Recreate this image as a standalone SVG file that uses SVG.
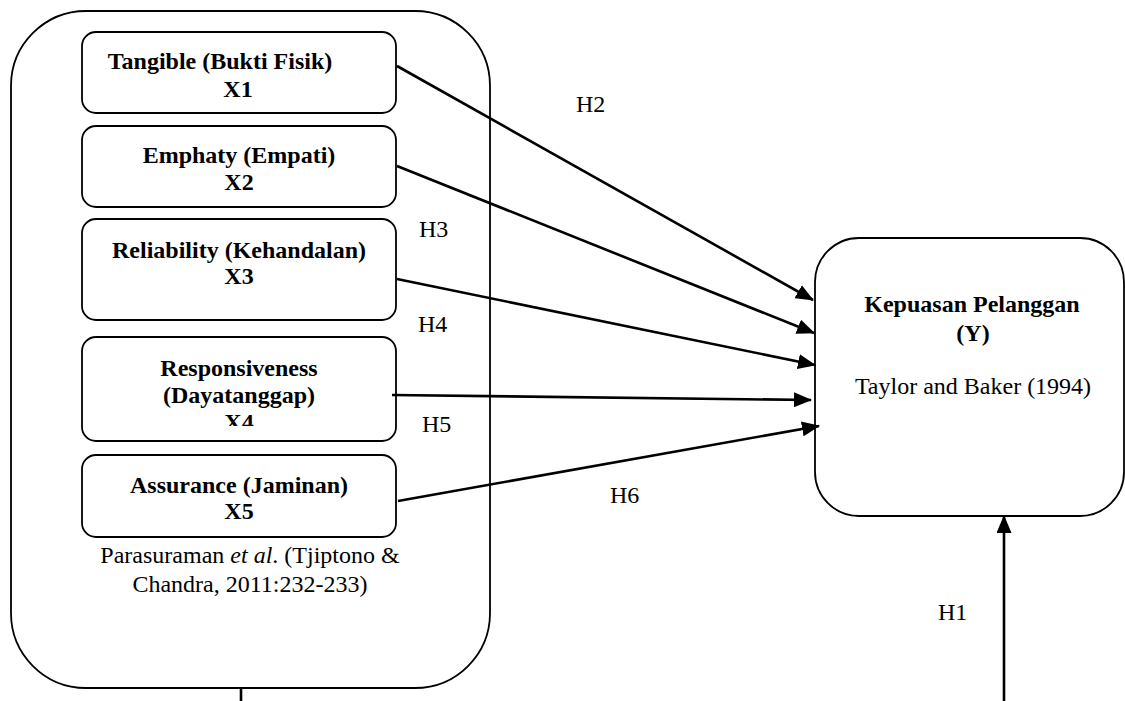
<svg xmlns="http://www.w3.org/2000/svg" width="1125" height="701" viewBox="0 0 1125 701">
<style>
.box{fill:#fff;stroke:#000;stroke-width:1.8}
.b{font-family:"Liberation Serif","Times New Roman",serif;font-size:24px;font-weight:bold;text-anchor:middle;fill:#000}
.t{font-family:"Liberation Serif","Times New Roman",serif;font-size:24px;text-anchor:middle;fill:#000}
.h{font-family:"Liberation Serif","Times New Roman",serif;font-size:24px;fill:#000}
.c{stroke:#000;stroke-width:2.6;fill:none}
</style>
<defs>
<marker id="ah" markerUnits="userSpaceOnUse" markerWidth="19" markerHeight="15" refX="17" refY="7.5" orient="auto">
<path d="M0,0 L18,7.5 L0,15 Z" fill="#000"/>
</marker>
<clipPath id="clip4"><rect x="82" y="337" width="314" height="89"/></clipPath>
</defs>
<rect width="1125" height="701" fill="#fff"/>
<g id="outer">
<rect class="box" x="11" y="11" width="479" height="677" rx="75" ry="75"/>
<text class="t" x="250" y="563">Parasuraman <tspan font-style="italic">et al</tspan>. (Tjiptono &amp;</text>
<text class="t" x="250" y="592">Chandra, 2011:232-233)</text>
</g>
<g id="x1">
<rect class="box" x="82" y="32" width="314" height="81" rx="14"/>
<text class="b" x="220" y="69">Tangible (Bukti Fisik)</text>
<text class="b" x="238" y="97">X1</text>
</g>
<g id="x2">
<rect class="box" x="82" y="126" width="314" height="81" rx="14"/>
<text class="b" x="239" y="163">Emphaty (Empati)</text>
<text class="b" x="239" y="190">X2</text>
</g>
<g id="x3">
<rect class="box" x="82" y="219" width="314" height="101" rx="14"/>
<text class="b" x="239" y="258">Reliability (Kehandalan)</text>
<text class="b" x="239" y="284">X3</text>
</g>
<g id="x4">
<rect class="box" x="82" y="337" width="314" height="104" rx="14"/>
<g clip-path="url(#clip4)">
<text class="b" x="239" y="376">Responsiveness</text>
<text class="b" x="239" y="403">(Dayatanggap)</text>
<text class="b" x="239" y="430">X4</text>
</g>
</g>
<g id="x5">
<rect class="box" x="82" y="455" width="314" height="82" rx="14"/>
<text class="b" x="239" y="493">Assurance (Jaminan)</text>
<text class="b" x="239" y="519">X5</text>
</g>
<g id="y">
<rect class="box" x="815" y="238" width="309" height="278" rx="44"/>
<text class="b" x="972" y="312">Kepuasan Pelanggan</text>
<text class="b" x="973" y="341">(Y)</text>
<text class="t" x="973" y="394">Taylor and Baker (1994)</text>
</g>
<g id="connectors">
<line class="c" x1="397" y1="66" x2="813" y2="300" marker-end="url(#ah)"/>
<line class="c" x1="397" y1="166" x2="814" y2="333" marker-end="url(#ah)"/>
<line class="c" x1="397" y1="279" x2="815" y2="365" marker-end="url(#ah)"/>
<line class="c" x1="392" y1="395" x2="811" y2="400" marker-end="url(#ah)"/>
<line class="c" x1="398" y1="501" x2="819" y2="426" marker-end="url(#ah)"/>
<line class="c" x1="1004" y1="701" x2="1004" y2="516" marker-end="url(#ah)"/>
<line class="c" x1="241" y1="688" x2="241" y2="701"/>
</g>
<g id="labels">
<text class="h" x="576" y="112">H2</text>
<text class="h" x="419" y="237">H3</text>
<text class="h" x="418" y="332">H4</text>
<text class="h" x="422" y="432">H5</text>
<text class="h" x="610" y="503">H6</text>
<text class="h" x="938" y="620">H1</text>
</g>
</svg>
